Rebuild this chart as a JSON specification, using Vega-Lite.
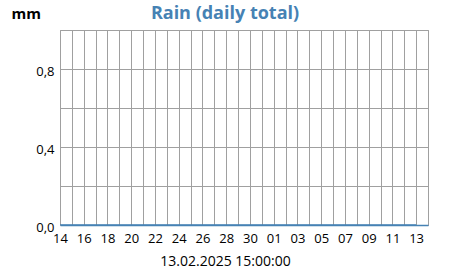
{
  "$schema": "https://vega.github.io/schema/vega-lite/v6.json",
  "width": 368,
  "height": 195,
  "autosize": {"type": "none"},
  "padding": {"left": 60, "top": 30, "right": 22, "bottom": 45},
  "background": "white",
  "config": {"font": "Open Sans", "view": {"stroke": "#a0a0a0", "strokeWidth": 1}},
  "title": {"text": "Rain (daily total)", "color": "#4682b4", "font": "Open Sans", "fontSize": 18, "fontWeight": "bold", "anchor": "middle", "dx": -19, "dy": 37, "offset": 6, "baseline": "alphabetic"},
  "data": {"values": [
    {"date": "2025-01-14", "rain": 0}, {"date": "2025-01-15", "rain": 0}, {"date": "2025-01-16", "rain": 0},
    {"date": "2025-01-17", "rain": 0}, {"date": "2025-01-18", "rain": 0}, {"date": "2025-01-19", "rain": 0},
    {"date": "2025-01-20", "rain": 0}, {"date": "2025-01-21", "rain": 0}, {"date": "2025-01-22", "rain": 0},
    {"date": "2025-01-23", "rain": 0}, {"date": "2025-01-24", "rain": 0}, {"date": "2025-01-25", "rain": 0},
    {"date": "2025-01-26", "rain": 0}, {"date": "2025-01-27", "rain": 0}, {"date": "2025-01-28", "rain": 0},
    {"date": "2025-01-29", "rain": 0}, {"date": "2025-01-30", "rain": 0}, {"date": "2025-01-31", "rain": 0},
    {"date": "2025-02-01", "rain": 0}, {"date": "2025-02-02", "rain": 0}, {"date": "2025-02-03", "rain": 0},
    {"date": "2025-02-04", "rain": 0}, {"date": "2025-02-05", "rain": 0}, {"date": "2025-02-06", "rain": 0},
    {"date": "2025-02-07", "rain": 0}, {"date": "2025-02-08", "rain": 0}, {"date": "2025-02-09", "rain": 0},
    {"date": "2025-02-10", "rain": 0}, {"date": "2025-02-11", "rain": 0}, {"date": "2025-02-12", "rain": 0},
    {"date": "2025-02-13", "rain": 0}
  ]},
  "mark": {"type": "line", "color": "#4682b4", "strokeWidth": 1.5, "clip": true},
  "encoding": {
    "x": {
      "field": "date", "type": "temporal",
      "scale": {"type": "utc", "domain": [
        {"year": 2025, "month": 1, "date": 14, "utc": true},
        {"year": 2025, "month": 2, "date": 14, "utc": true}
      ], "nice": false},
      "axis": {
        "tickCount": {"interval": "day", "step": 1},
        "labelExpr": "round((datum.value - utc(2025,0,14)) / 864e5) % 2 == 0 ? utcFormat(datum.value, '%d') : ''",
        "labelOverlap": false, "labelFlush": false,
        "labelFontSize": 13, "labelColor": "black", "labelPadding": 7,
        "ticks": false, "domain": true, "domainColor": "#4682b4", "domainWidth": 1.5,
        "grid": true, "gridColor": "#a0a0a0", "gridOpacity": 1, "gridWidth": 1,
        "title": "13.02.2025 15:00:00", "titleFontSize": 14, "titleFontWeight": "normal", "titleColor": "black",
        "titleX": 165, "titleY": 40, "titleAlign": "center", "titleBaseline": "alphabetic"
      }
    },
    "y": {
      "field": "rain", "type": "quantitative",
      "scale": {"domain": [0, 1], "nice": false, "zero": true},
      "axis": {
        "values": [0, 0.2, 0.4, 0.6, 0.8, 1],
        "labelExpr": "round(datum.value * 10) % 4 == 0 ? replace(format(datum.value, '.1f'), '.', ',') : ''",
        "labelFlush": false, "labelOverlap": false,
        "labelFontSize": 13, "labelColor": "black", "labelPadding": 6, "labelOffset": 2.5,
        "ticks": false, "domain": false,
        "grid": true, "gridColor": "#a0a0a0", "gridOpacity": 1, "gridWidth": 1,
        "title": "mm", "titleAngle": 0, "titleX": -49, "titleY": -12, "titleAlign": "left", "titleBaseline": "alphabetic",
        "titleFontSize": 15, "titleFontWeight": "bold", "titleColor": "black"
      }
    }
  }
}
